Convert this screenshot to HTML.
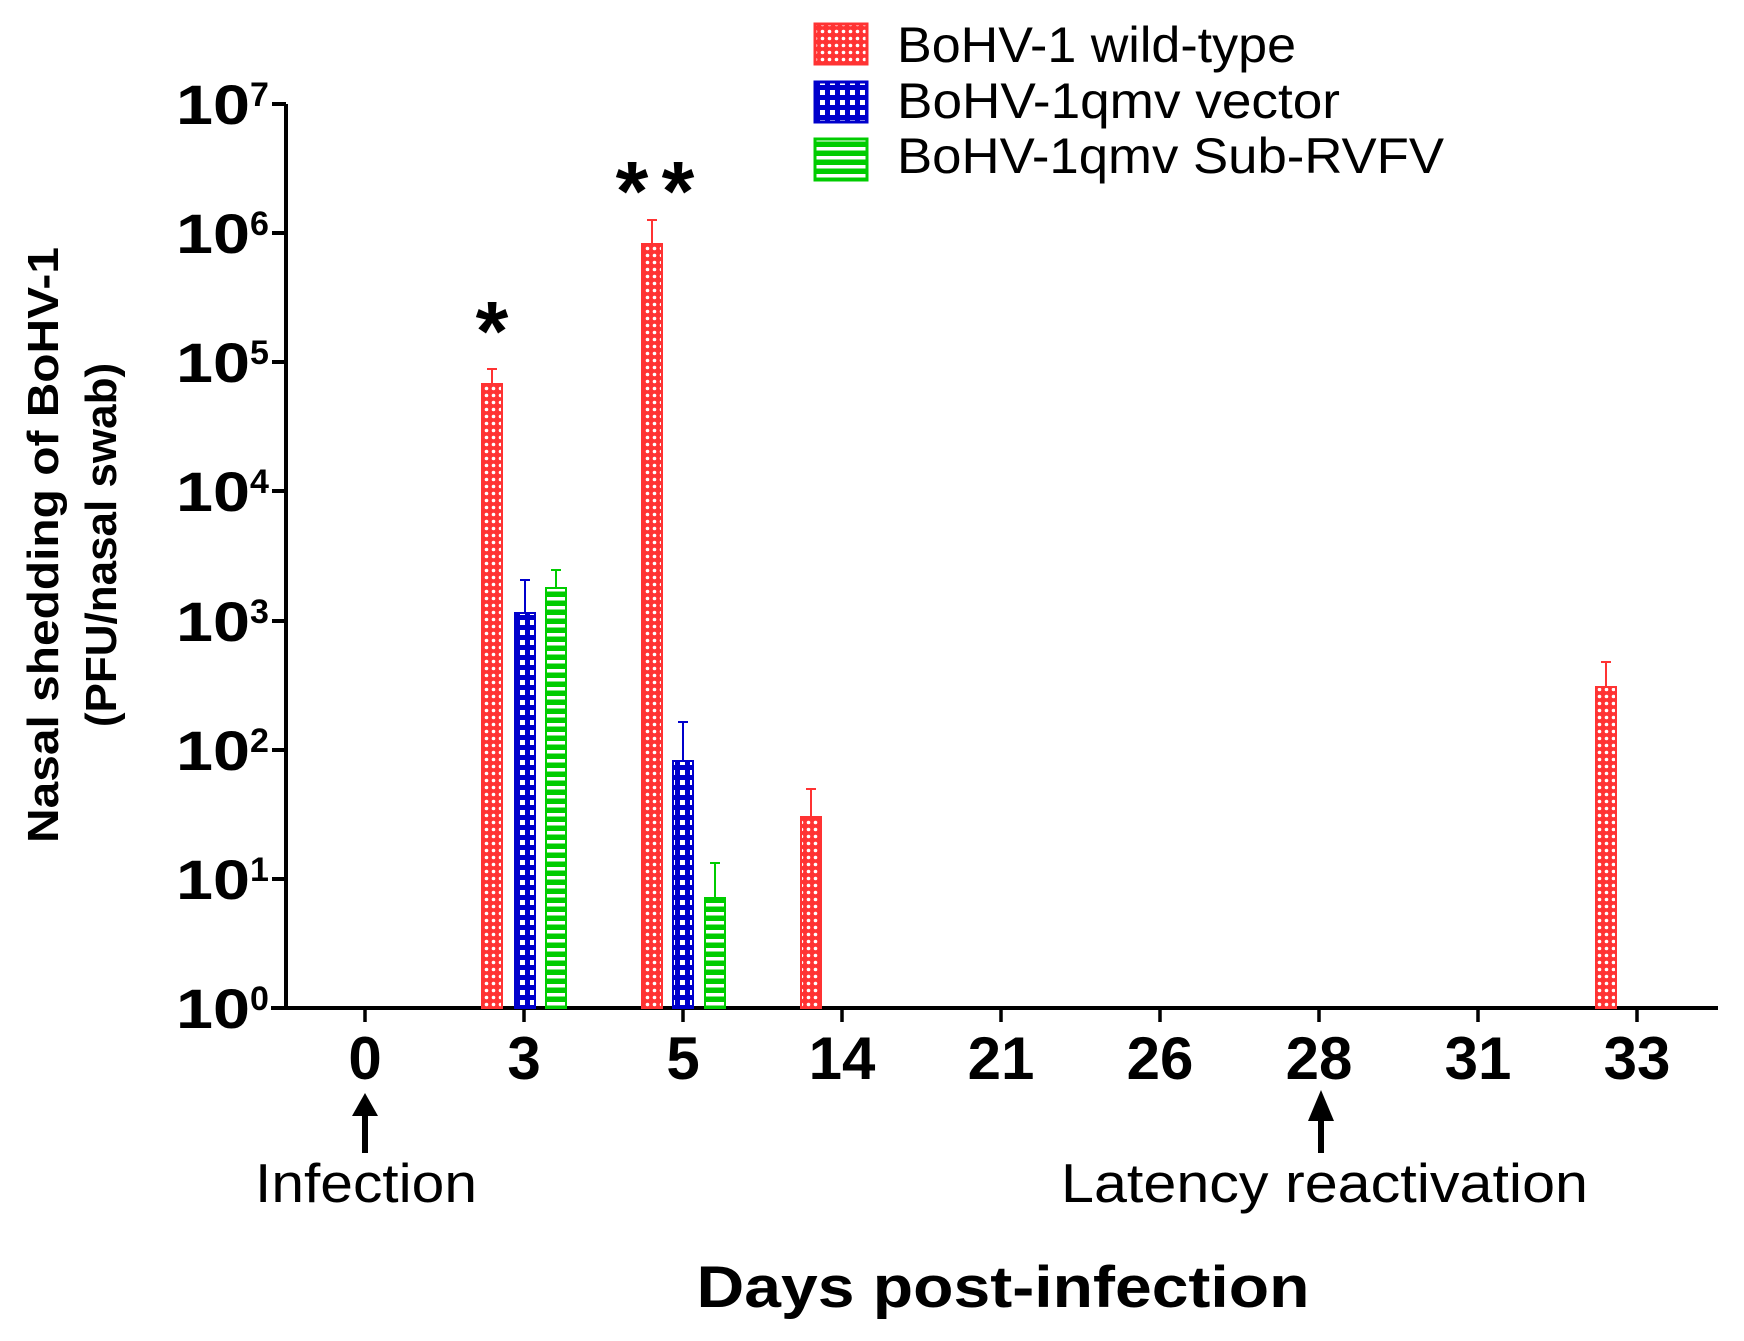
<!DOCTYPE html>
<html><head><meta charset="utf-8"><style>html,body{margin:0;padding:0;background:#fff}svg{display:block}</style></head>
<body>
<svg width="1744" height="1341" viewBox="0 0 1744 1341" xmlns="http://www.w3.org/2000/svg" font-family="Liberation Sans, Arial, sans-serif">
<defs>
<pattern id="pr" width="7" height="7" patternUnits="userSpaceOnUse"><rect width="7" height="7" fill="#f33"/><circle cx="3.5" cy="3.5" r="1.8" fill="#fff"/></pattern>
<pattern id="pb" width="10" height="10" patternUnits="userSpaceOnUse"><rect width="10" height="10" fill="#00c"/><rect x="0" y="0" width="5" height="5" fill="#fff"/></pattern>
<pattern id="pg" width="10" height="9" patternUnits="userSpaceOnUse"><rect width="10" height="9" fill="#0c0"/><rect x="0" y="3" width="10" height="3.5" fill="#fff"/></pattern>
</defs>
<g stroke="#000" stroke-width="4" fill="none">
<line x1="286" y1="104" x2="286" y2="1010"/>
<line x1="271" y1="1008" x2="1718" y2="1008"/>
<line x1="272" y1="104" x2="286" y2="104"/>
<line x1="272" y1="233" x2="286" y2="233"/>
<line x1="272" y1="362" x2="286" y2="362"/>
<line x1="272" y1="491" x2="286" y2="491"/>
<line x1="272" y1="621" x2="286" y2="621"/>
<line x1="272" y1="750" x2="286" y2="750"/>
<line x1="272" y1="879" x2="286" y2="879"/>
<g stroke-width="3.5">
<line x1="365" y1="1008" x2="365" y2="1022"/><line x1="524" y1="1008" x2="524" y2="1022"/><line x1="683" y1="1008" x2="683" y2="1022"/><line x1="842" y1="1008" x2="842" y2="1022"/><line x1="1001" y1="1008" x2="1001" y2="1022"/><line x1="1160" y1="1008" x2="1160" y2="1022"/><line x1="1319" y1="1008" x2="1319" y2="1022"/><line x1="1478" y1="1008" x2="1478" y2="1022"/><line x1="1637" y1="1008" x2="1637" y2="1022"/>
</g>
</g>
<g font-weight="bold" fill="#000">
<g font-size="56"><text x="176" y="124" textLength="74" lengthAdjust="spacingAndGlyphs">10</text><text x="176" y="253" textLength="74" lengthAdjust="spacingAndGlyphs">10</text><text x="176" y="382" textLength="74" lengthAdjust="spacingAndGlyphs">10</text><text x="176" y="511" textLength="74" lengthAdjust="spacingAndGlyphs">10</text><text x="176" y="641" textLength="74" lengthAdjust="spacingAndGlyphs">10</text><text x="176" y="770" textLength="74" lengthAdjust="spacingAndGlyphs">10</text><text x="176" y="899" textLength="74" lengthAdjust="spacingAndGlyphs">10</text><text x="176" y="1028" textLength="74" lengthAdjust="spacingAndGlyphs">10</text></g>
<g font-size="34"><text x="250" y="106">7</text><text x="250" y="235">6</text><text x="250" y="364">5</text><text x="250" y="493">4</text><text x="250" y="623">3</text><text x="250" y="752">2</text><text x="250" y="881">1</text><text x="250" y="1010">0</text></g>
</g>
<g font-weight="bold" font-size="60" text-anchor="middle" fill="#000">
<text x="365" y="1079">0</text><text x="524" y="1079">3</text><text x="683" y="1079">5</text><text x="842" y="1079">14</text><text x="1001" y="1079">21</text><text x="1160" y="1079">26</text><text x="1319" y="1079">28</text><text x="1478" y="1079">31</text><text x="1637" y="1079">33</text>
</g>
<g stroke-width="2">
<rect x="482" y="384" width="20" height="624" fill="url(#pr)" stroke="#f33"/>
<rect x="515" y="613" width="20" height="395" fill="url(#pb)" stroke="#00c"/>
<rect x="546" y="588" width="20" height="420" fill="url(#pg)" stroke="#0c0"/>
<rect x="642" y="244" width="20" height="764" fill="url(#pr)" stroke="#f33"/>
<rect x="673" y="761" width="20" height="247" fill="url(#pb)" stroke="#00c"/>
<rect x="705" y="898" width="20" height="110" fill="url(#pg)" stroke="#0c0"/>
<rect x="801" y="817" width="20" height="191" fill="url(#pr)" stroke="#f33"/>
<rect x="1596" y="687" width="20" height="321" fill="url(#pr)" stroke="#f33"/>
</g>
<g stroke-width="2">
<path d="M492 384V369M487 369H497M652 244V220M647 220H657M811 817V789M806 789H816M1606 687V662M1601 662H1611" stroke="#f33"/>
<path d="M525 613V580M520 580H530M683 761V722M678 722H688" stroke="#00c"/>
<path d="M556 588V570M551 570H561M715 898V863M710 863H720" stroke="#0c0"/>
</g>
<g font-size="84" font-weight="bold" text-anchor="middle" fill="#000">
<text x="492" y="360">*</text><text x="632" y="220">*</text><text x="678" y="220">*</text>
</g>
<g fill="#000">
<rect x="362" y="1110" width="6" height="43"/><polygon points="352,1116 365,1093 378,1116"/>
<rect x="1318" y="1116" width="6" height="37"/><polygon points="1308,1121 1321,1090 1334,1121"/>
</g>
<g font-size="55" fill="#000">
<text x="255" y="1202" textLength="222" lengthAdjust="spacingAndGlyphs">Infection</text>
<text x="1061" y="1202" textLength="527" lengthAdjust="spacingAndGlyphs">Latency reactivation</text>
</g>
<text x="1003" y="1307" font-size="58" font-weight="bold" text-anchor="middle" textLength="613" lengthAdjust="spacingAndGlyphs">Days post-infection</text>
<g font-weight="bold" font-size="44" text-anchor="middle">
<text transform="translate(58,545) rotate(-90)" textLength="596" lengthAdjust="spacingAndGlyphs">Nasal shedding of BoHV-1</text>
<text transform="translate(116,545) rotate(-90)">(PFU/nasal swab)</text>
</g>
<rect x="815" y="24" width="52" height="40" fill="url(#pr)" stroke="#f33" stroke-width="3"/>
<rect x="815" y="82" width="52" height="40" fill="url(#pb)" stroke="#00c" stroke-width="3"/>
<rect x="815" y="139" width="52" height="41" fill="url(#pg)" stroke="#0c0" stroke-width="3"/>
<g font-size="50" fill="#000">
<text x="897" y="62" textLength="399" lengthAdjust="spacingAndGlyphs">BoHV-1 wild-type</text>
<text x="897" y="118" textLength="443" lengthAdjust="spacingAndGlyphs">BoHV-1qmv vector</text>
<text x="897" y="173" textLength="547" lengthAdjust="spacingAndGlyphs">BoHV-1qmv Sub-RVFV</text>
</g>
</svg>
</body></html>
